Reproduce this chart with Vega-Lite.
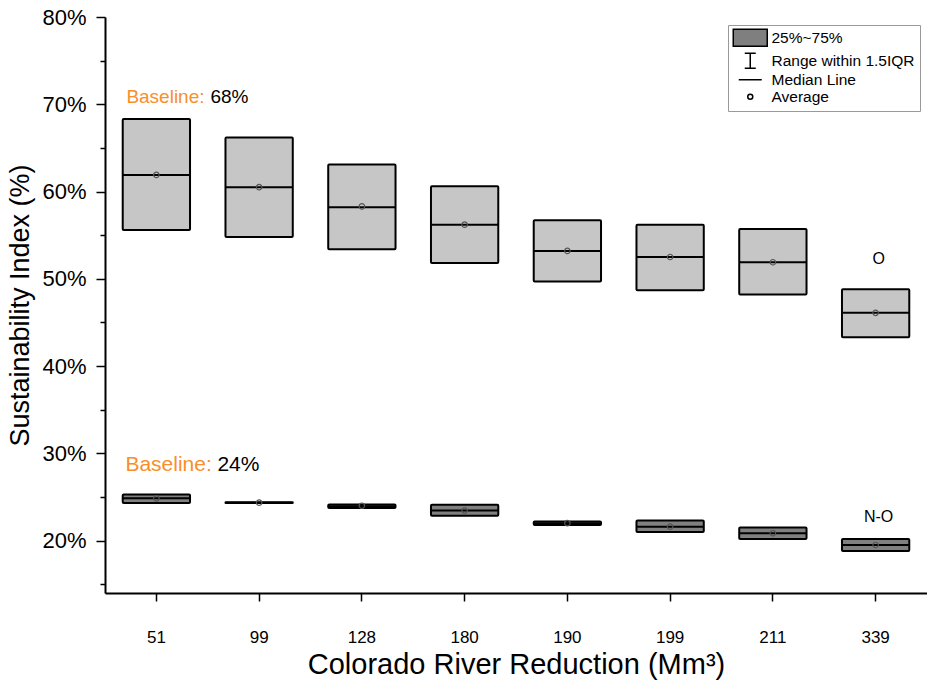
{
  "$schema": "https://vega.github.io/schema/vega-lite/v6.json",
  "width": 822,
  "height": 576,
  "autosize": {"type": "none"},
  "padding": {"left": 105, "top": 17, "right": 0, "bottom": 92},
  "background": "white",
  "config": {
    "view": {"stroke": null},
    "font": "Liberation Sans, Arial, sans-serif",
    "axis": {"labelColor": "black", "titleColor": "black", "titleFontWeight": "normal", "domainColor": "black", "tickColor": "black", "grid": false}
  },
  "datasets": {
    "boxes": [
      {"reduction": 51, "group": "O", "q1": 55.6, "q3": 68.3, "median": 61.9, "mean": 61.9},
      {"reduction": 99, "group": "O", "q1": 54.8, "q3": 66.2, "median": 60.5, "mean": 60.5},
      {"reduction": 128, "group": "O", "q1": 53.4, "q3": 63.1, "median": 58.2, "mean": 58.3},
      {"reduction": 180, "group": "O", "q1": 51.8, "q3": 60.6, "median": 56.2, "mean": 56.2},
      {"reduction": 190, "group": "O", "q1": 49.7, "q3": 56.7, "median": 53.2, "mean": 53.2},
      {"reduction": 199, "group": "O", "q1": 48.7, "q3": 56.2, "median": 52.5, "mean": 52.5},
      {"reduction": 211, "group": "O", "q1": 48.2, "q3": 55.7, "median": 51.9, "mean": 51.9},
      {"reduction": 339, "group": "O", "q1": 43.3, "q3": 48.8, "median": 46.1, "mean": 46.1},
      {"reduction": 51, "group": "N-O", "q1": 24.3, "q3": 25.3, "median": 24.85, "mean": 24.85},
      {"reduction": 99, "group": "N-O", "q1": 24.3, "q3": 24.4, "median": 24.35, "mean": 24.35},
      {"reduction": 128, "group": "N-O", "q1": 23.75, "q3": 24.15, "median": 23.95, "mean": 24.0},
      {"reduction": 180, "group": "N-O", "q1": 22.85, "q3": 24.1, "median": 23.45, "mean": 23.45},
      {"reduction": 190, "group": "N-O", "q1": 21.8, "q3": 22.2, "median": 22.0, "mean": 22.0},
      {"reduction": 199, "group": "N-O", "q1": 21.0, "q3": 22.3, "median": 21.6, "mean": 21.6},
      {"reduction": 211, "group": "N-O", "q1": 20.2, "q3": 21.5, "median": 20.85, "mean": 20.85},
      {"reduction": 339, "group": "N-O", "q1": 18.8, "q3": 20.2, "median": 19.5, "mean": 19.5}
    ],
    "baselines": [
      {"reduction": 51, "y": 70.86, "word": "Baseline:", "val": "68%", "row": "top"},
      {"reduction": 51, "y": 28.67, "word": "Baseline:", "val": "24%", "row": "bottom"}
    ],
    "tags": [
      {"reduction": 339, "y": 52.3, "tag": "O"},
      {"reduction": 339, "y": 22.75, "tag": "N-O"}
    ],
    "legendItems": [
      {"item": "25%~75%"},
      {"item": "Range within 1.5IQR"},
      {"item": "Median Line"},
      {"item": "Average"}
    ]
  },
  "layer": [
    {
      "data": {"name": "boxes"},
      "mark": {"type": "bar", "stroke": "black", "strokeWidth": 2, "width": {"band": 0.655}, "cornerRadius": 1},
      "encoding": {
        "x": {
          "field": "reduction", "type": "ordinal",
          "scale": {"paddingInner": 0, "paddingOuter": 0},
          "axis": {
            "title": "Colorado River Reduction (Mm³)",
            "labelAngle": 0, "tickSize": 8, "tickWidth": 1.5, "domainWidth": 2,
            "labelFontSize": 17, "labelPadding": 28, "titleFontSize": 29, "titlePadding": 5
          }
        },
        "y": {
          "field": "q1", "type": "quantitative",
          "scale": {"domain": [14, 80], "nice": false, "zero": false},
          "axis": {
            "title": "Sustainability Index (%)",
            "values": [15, 20, 25, 30, 35, 40, 45, 50, 55, 60, 65, 70, 75, 80],
            "labelExpr": "datum.value % 10 === 0 ? datum.value + '%' : ''",
            "tickSize": {"condition": {"test": "datum.value % 10 === 0", "value": 9}, "value": 5},
            "tickWidth": 1.5, "domainWidth": 2,
            "labelFontSize": 22, "labelPadding": 10,
            "titleFontSize": 27, "titlePadding": 7
          }
        },
        "y2": {"field": "q3"},
        "fill": {"field": "group", "type": "nominal", "scale": {"domain": ["O", "N-O"], "range": ["#c6c6c6", "#808080"]}, "legend": null}
      }
    },
    {
      "data": {"name": "boxes"},
      "mark": {"type": "tick", "color": "black", "opacity": 1, "thickness": 2, "size": 67},
      "encoding": {
        "x": {"field": "reduction", "type": "ordinal"},
        "y": {"field": "median", "type": "quantitative"}
      }
    },
    {
      "data": {"name": "boxes"},
      "mark": {"type": "point", "shape": "circle", "filled": false, "stroke": "#555555", "opacity": 1, "strokeWidth": 1.2, "size": 30},
      "encoding": {
        "x": {"field": "reduction", "type": "ordinal"},
        "y": {"field": "mean", "type": "quantitative"}
      }
    },
    {
      "mark": {"type": "rule", "color": "black", "strokeWidth": 2},
      "encoding": {"y": {"datum": 80}}
    },
    {
      "data": {"name": "baselines"},
      "transform": [{"filter": "datum.row === 'top'"}],
      "layer": [
        {
          "mark": {"type": "text", "align": "left", "baseline": "middle", "fontSize": 19, "color": "#f98e2b", "dx": -30},
          "encoding": {"x": {"field": "reduction", "type": "ordinal"}, "y": {"field": "y", "type": "quantitative"}, "text": {"field": "word"}}
        },
        {
          "mark": {"type": "text", "align": "left", "baseline": "middle", "fontSize": 19, "color": "black", "dx": 54},
          "encoding": {"x": {"field": "reduction", "type": "ordinal"}, "y": {"field": "y", "type": "quantitative"}, "text": {"field": "val"}}
        }
      ]
    },
    {
      "data": {"name": "baselines"},
      "transform": [{"filter": "datum.row === 'bottom'"}],
      "layer": [
        {
          "mark": {"type": "text", "align": "left", "baseline": "middle", "fontSize": 21, "color": "#f98e2b", "dx": -31},
          "encoding": {"x": {"field": "reduction", "type": "ordinal"}, "y": {"field": "y", "type": "quantitative"}, "text": {"field": "word"}}
        },
        {
          "mark": {"type": "text", "align": "left", "baseline": "middle", "fontSize": 21, "color": "black", "dx": 61},
          "encoding": {"x": {"field": "reduction", "type": "ordinal"}, "y": {"field": "y", "type": "quantitative"}, "text": {"field": "val"}}
        }
      ]
    },
    {
      "data": {"name": "tags"},
      "mark": {"type": "text", "align": "center", "baseline": "middle", "fontSize": 16, "color": "black", "dx": 3},
      "encoding": {"x": {"field": "reduction", "type": "ordinal"}, "y": {"field": "y", "type": "quantitative"}, "text": {"field": "tag"}}
    },
    {
      "data": {"name": "legendItems"},
      "mark": {"type": "point", "filled": true, "opacity": 0, "stroke": "black", "strokeWidth": 1.5},
      "encoding": {
        "shape": {
          "field": "item", "type": "nominal",
          "scale": {
            "domain": ["25%~75%", "Range within 1.5IQR", "Median Line", "Average"],
            "range": [
              "M-1.5,-1.7H5.3V1.7H-1.5Z",
              "M0.8,-1.5H3.0M1.9,-1.5V1.5M0.8,1.5H3.0",
              "M-0.4,0H4.2",
              "M1.4,0A0.5,0.5 0 1,0 2.4,0A0.5,0.5 0 1,0 1.4,0Z"
            ]
          },
          "legend": {
            "title": null, "orient": "none", "legendX": 623, "legendY": 8,
            "padding": 5, "symbolSize": 100, "labelFontSize": 15.5, "labelOffset": 23,
            "rowPadding": 0, "strokeColor": "#999999", "fillColor": "white", "labelColor": "black",
            "symbolOpacity": 1, "symbolStrokeWidth": 1.5
          }
        },
        "color": {
          "field": "item", "type": "nominal",
          "scale": {
            "domain": ["25%~75%", "Range within 1.5IQR", "Median Line", "Average"],
            "range": ["#7f7f7f", "white", "white", "white"]
          },
          "legend": {
            "title": null, "orient": "none", "legendX": 623, "legendY": 8,
            "padding": 5, "symbolSize": 100, "labelFontSize": 15.5, "labelOffset": 23,
            "rowPadding": 0, "strokeColor": "#999999", "fillColor": "white", "labelColor": "black",
            "symbolOpacity": 1, "symbolStrokeWidth": 1.5
          }
        }
      }
    }
  ]
}
